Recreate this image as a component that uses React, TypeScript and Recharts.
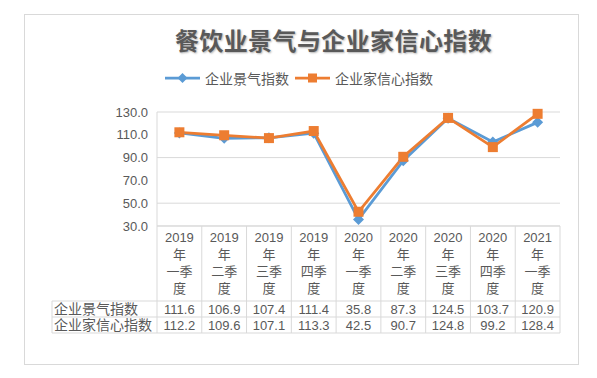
import React from 'react';
import { LineChart, Line, XAxis, YAxis, CartesianGrid, Legend } from 'recharts';

const title = '餐饮业景气与企业家信心指数';
const categories = [
  '2019年一季度', '2019年二季度', '2019年三季度', '2019年四季度',
  '2020年一季度', '2020年二季度', '2020年三季度', '2020年四季度', '2021年一季度',
];
const businessIndex = [111.6, 106.9, 107.4, 111.4, 35.8, 87.3, 124.5, 103.7, 120.9];
const confidenceIndex = [112.2, 109.6, 107.1, 113.3, 42.5, 90.7, 124.8, 99.2, 128.4];
const seriesNames = ['企业景气指数', '企业家信心指数'];
const yTicks = [30, 50, 70, 90, 110, 130];

const data = categories.map((c, i) => ({
  category: c,
  business: businessIndex[i],
  confidence: confidenceIndex[i],
}));
const seriesValues: Record<string, number[]> = { business: businessIndex, confidence: confidenceIndex };
const rowKeys = ['business', 'confidence'];

const W = 597;
const H = 378;
const MARGIN = { top: 104, right: 45, bottom: 30, left: 0 };
const Y_AXIS_W = 149;
const X_AXIS_H = 130;
const PLOT_W = W - MARGIN.left - Y_AXIS_W - MARGIN.right;
const BAND = PLOT_W / categories.length;
const LABEL_COL_W = 105;

const GRID = '#d9d9d9';
const TEXT = '#595959';
const BLUE = '#5B9BD5';
const ORANGE = '#ED7D31';
const FONT = '"Noto Sans CJK SC", "Noto Sans", sans-serif';
const TABLE_FONT = '"Liberation Sans", "Noto Sans CJK SC", sans-serif';

const HEADER_LINE_Y = [11, 28, 45, 62];
const ROW_LINES = [75, 91, 107];
const ROW_TEXT_Y = [83, 99];

function splitLabel(s: string) {
  return [s.slice(0, 4), s.slice(4, 5), s.slice(5, 7), s.slice(7)];
}

function TableTick(props: any) {
  const { x, y, payload } = props;
  const i: number = props.index ?? payload.index;
  const lines = splitLabel(String(payload.value));
  const left = x - BAND / 2;
  const right = x + BAND / 2;
  const bottom = y + ROW_LINES[ROW_LINES.length - 1];
  const tableLeft = left - LABEL_COL_W;
  const tableRight = left + BAND * categories.length;
  return (
    <g>
      {i === 0 && (
        <g>
          <line x1={left} x2={left} y1={y} y2={bottom} stroke={GRID} strokeWidth={1} />
          <line x1={tableLeft} x2={tableLeft} y1={y + ROW_LINES[0]} y2={bottom} stroke={GRID} strokeWidth={1} />
          {ROW_LINES.map((ry, k) => (
            <line key={k} x1={tableLeft} x2={tableRight} y1={y + ry} y2={y + ry} stroke={GRID} strokeWidth={1} />
          ))}
          {rowKeys.map((k, r) => (
            <text
              key={k}
              x={tableLeft + 2}
              y={y + ROW_TEXT_Y[r] + 5}
              fill={TEXT}
              fontSize={14}
              fontFamily={TABLE_FONT}
            >
              {seriesNames[r]}
            </text>
          ))}
        </g>
      )}
      <line x1={right} x2={right} y1={y} y2={bottom} stroke={GRID} strokeWidth={1} />
      {lines.map((t, k) => (
        <text
          key={k}
          x={x}
          y={y + HEADER_LINE_Y[k] + 4.5}
          textAnchor="middle"
          fill={TEXT}
          fontSize={13}
          fontFamily={TABLE_FONT}
        >
          {t}
        </text>
      ))}
      {rowKeys.map((k, r) => (
        <text
          key={k}
          x={x}
          y={y + ROW_TEXT_Y[r] + 4.5}
          textAnchor="middle"
          fill={TEXT}
          fontSize={13}
          fontFamily={TABLE_FONT}
        >
          {seriesValues[k][i].toFixed(1)}
        </text>
      ))}
    </g>
  );
}

function Diamond({ cx, cy, color, r = 5.5 }: any) {
  if (cx == null || cy == null) return null;
  return <path d={`M${cx},${cy - r}L${cx + r},${cy}L${cx},${cy + r}L${cx - r},${cy}Z`} fill={color} />;
}

function Square({ cx, cy, color, s = 10 }: any) {
  if (cx == null || cy == null) return null;
  return <rect x={cx - s / 2} y={cy - s / 2} width={s} height={s} fill={color} />;
}

function LegendContent(props: any) {
  const payload = [...(props.payload || [])].sort(
    (a: any, b: any) => rowKeys.indexOf(a.dataKey) - rowKeys.indexOf(b.dataKey)
  );
  return (
    <div style={{ display: 'flex', alignItems: 'center', fontFamily: FONT, fontSize: 14, color: TEXT, whiteSpace: 'nowrap' }}>
      {payload.map((p: any, i: number) => (
        <div key={i} style={{ display: 'flex', alignItems: 'center', marginRight: 6 }}>
          <svg width={35} height={14} style={{ display: 'block' }}>
            <line x1={0} x2={35} y1={7} y2={7} stroke={p.color} strokeWidth={2.75} />
            {p.dataKey === 'business' ? (
              <Diamond cx={17.5} cy={7} color={p.color} r={5} />
            ) : (
              <Square cx={17.5} cy={7} color={p.color} s={9} />
            )}
          </svg>
          <span style={{ marginLeft: 5, lineHeight: '18px' }}>{p.value}</span>
        </div>
      ))}
    </div>
  );
}

export default function App() {
  return (
    <div style={{ position: 'relative', width: W, height: H }}>
      <LineChart width={W} height={H} data={data} margin={MARGIN}>
        <CartesianGrid stroke={GRID} vertical={false} />
        <XAxis
          dataKey="category"
          interval={0}
          height={X_AXIS_H}
          padding={{ left: BAND / 2, right: BAND / 2 }}
          tickSize={0}
          tickMargin={0}
          tickLine={false}
          axisLine={{ stroke: GRID }}
          tick={<TableTick />}
        />
        <YAxis
          width={Y_AXIS_W}
          domain={[30, 130]}
          ticks={yTicks}
          tickSize={0}
          tickMargin={9}
          tickLine={false}
          axisLine={{ stroke: GRID }}
          tickFormatter={(v: number) => v.toFixed(1)}
          tick={{ fill: TEXT, fontSize: 13, fontFamily: TABLE_FONT }}
        />
        <Legend
          layout="horizontal"
          verticalAlign="middle"
          align="center"
          content={<LegendContent />}
          wrapperStyle={{ top: 61, left: 157, width: 320, height: 18 }}
        />
        <Line
          type="linear"
          dataKey="business"
          name={seriesNames[0]}
          stroke={BLUE}
          strokeWidth={2.75}
          isAnimationActive={false}
          dot={(p: any) => <Diamond key={`d${p.index}`} cx={p.cx} cy={p.cy} color={BLUE} />}
          activeDot={false}
        />
        <Line
          type="linear"
          dataKey="confidence"
          name={seriesNames[1]}
          stroke={ORANGE}
          strokeWidth={2.75}
          isAnimationActive={false}
          dot={(p: any) => <Square key={`s${p.index}`} cx={p.cx} cy={p.cy} color={ORANGE} />}
          activeDot={false}
        />
      </LineChart>
      <div
        style={{
          position: 'absolute',
          left: 125.5,
          width: 400,
          top: 17,
          lineHeight: '30px',
          textAlign: 'center',
          fontFamily: FONT,
          fontWeight: 700,
          fontSize: 24,
          letterSpacing: 0.4,
          color: TEXT,
          textShadow: '1px 1px 2px rgba(0,0,0,0.3)',
          whiteSpace: 'nowrap',
          pointerEvents: 'none',
        }}
      >
        {title}
      </div>
      <div
        style={{
          position: 'absolute',
          left: 16,
          top: 6,
          width: 555,
          height: 351,
          boxSizing: 'border-box',
          border: `1px solid ${GRID}`,
          pointerEvents: 'none',
        }}
      />
    </div>
  );
}
